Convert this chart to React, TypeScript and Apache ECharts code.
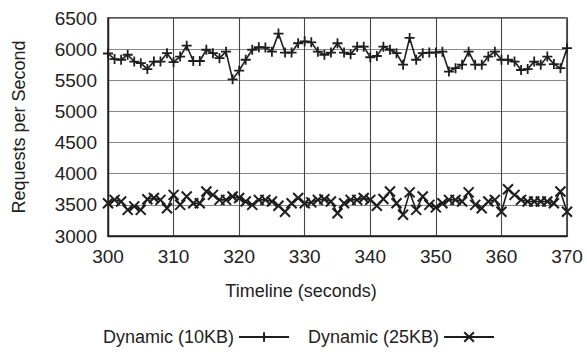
import React, { useEffect, useRef } from "react";
import * as echarts from "echarts";

const times: number[] = [];
for (let t = 300; t <= 370; t++) times.push(t);

const dyn10KB = [
  5930, 5840, 5830, 5910, 5800, 5775, 5680, 5800, 5800, 5935,
  5790, 5880, 6055, 5810, 5810, 5990, 5935, 5855, 5960, 5515,
  5655, 5830, 5990, 6030, 6025, 5960, 6250, 5945, 5945, 6095,
  6125, 6110, 5960, 5910, 5945, 6095, 5945, 5920, 6040, 6040,
  5870, 5890, 6040, 5990, 5935, 5750, 6180, 5830, 5935, 5945,
  5945, 5960, 5640, 5695, 5750, 5960, 5750, 5750, 5880, 5960,
  5830, 5830, 5800, 5665, 5680, 5800, 5750, 5880, 5760, 5695,
  6015,
];

const dyn25KB = [
  3527, 3580, 3555, 3420, 3475, 3420, 3590, 3610, 3580, 3445,
  3660, 3500, 3635, 3527, 3527, 3715, 3660, 3580, 3580, 3635,
  3610, 3555, 3500, 3580, 3580, 3555, 3485, 3390, 3527, 3610,
  3527, 3540, 3580, 3590, 3555, 3365, 3527, 3580, 3580, 3610,
  3580, 3485, 3595, 3715, 3527, 3340, 3700, 3420, 3635, 3500,
  3460, 3527, 3580, 3580, 3555, 3700, 3500, 3445, 3555, 3580,
  3390, 3750, 3660, 3580, 3555, 3555, 3555, 3555, 3527, 3715,
  3390,
];

const seriesNames = ["Dynamic (10KB)", "Dynamic (25KB)"];
const xTitle = "Timeline (seconds)";
const yTitle = "Requests per Second";

const PLUS = "path://M5,0 L5,10 M0,5 L10,5";
const CROSS = "path://M0,0 L10,10 M10,0 L0,10";

export default function App() {
  const ref = useRef<HTMLDivElement>(null);
  useEffect(() => {
    if (!ref.current) return;
    const chart = echarts.init(ref.current, null, { renderer: "svg" });
    const font = "Liberation Sans, Arial, Helvetica, sans-serif";
    const ink = "#1e1e1e";
    chart.setOption({
      animation: false,
      backgroundColor: "#ffffff",
      textStyle: { fontFamily: font },
      grid: {
        left: 108,
        right: 20,
        top: 18,
        bottom: 118,
        show: true,
        borderColor: ink,
        borderWidth: 1.4,
        containLabel: false,
      },
      xAxis: {
        type: "value",
        min: 300,
        max: 370,
        interval: 10,
        axisLine: { show: true, lineStyle: { color: ink, width: 1.4 } },
        axisTick: { show: false },
        axisLabel: { color: "#222", fontSize: 19, fontFamily: font, margin: 11 },
        splitLine: { show: true, lineStyle: { color: "#444", width: 1.1 } },
      },
      yAxis: {
        type: "value",
        min: 3000,
        max: 6500,
        interval: 500,
        axisLine: { show: true, lineStyle: { color: ink, width: 1.4 } },
        axisTick: { show: false },
        axisLabel: {
          color: "#222",
          fontSize: 19,
          fontFamily: font,
          margin: 11,
          formatter: (v: number) => String(v),
        },
        splitLine: { show: true, lineStyle: { color: "#888", width: 1.1 } },
        name: yTitle,
        nameLocation: "middle",
        nameGap: 80,
        nameTextStyle: { color: "#222", fontSize: 18, fontFamily: font },
      },
      graphic: [
        {
          type: "text",
          x: 301,
          y: 291,
          style: {
            text: xTitle,
            fill: "#222",
            font: `18px ${font}`,
            textAlign: "center",
            textVerticalAlign: "middle",
          },
        },
      ],
      legend: {
        left: 98,
        top: 323,
        align: "right",
        itemWidth: 50,
        itemHeight: 12,
        itemGap: 18,
        textStyle: { color: "#222", fontSize: 18, fontFamily: font },
        data: seriesNames,
      },
      series: [
        {
          name: seriesNames[0],
          type: "line",
          data: times.map((t, i) => [t, dyn10KB[i]]),
          symbol: PLUS,
          symbolSize: 10,
          showAllSymbol: true,
          lineStyle: { color: ink, width: 1.6 },
          itemStyle: { color: ink, borderColor: ink, borderWidth: 1.8 },
        },
        {
          name: seriesNames[1],
          type: "line",
          data: times.map((t, i) => [t, dyn25KB[i]]),
          symbol: CROSS,
          symbolSize: 10,
          showAllSymbol: true,
          lineStyle: { color: ink, width: 1.6 },
          itemStyle: { color: ink, borderColor: ink, borderWidth: 2 },
        },
      ],
    });
    return () => chart.dispose();
  }, []);
  return (
    <div
      ref={ref}
      style={{ position: "fixed", left: 0, top: 0, width: 587, height: 354 }}
    />
  );
}
